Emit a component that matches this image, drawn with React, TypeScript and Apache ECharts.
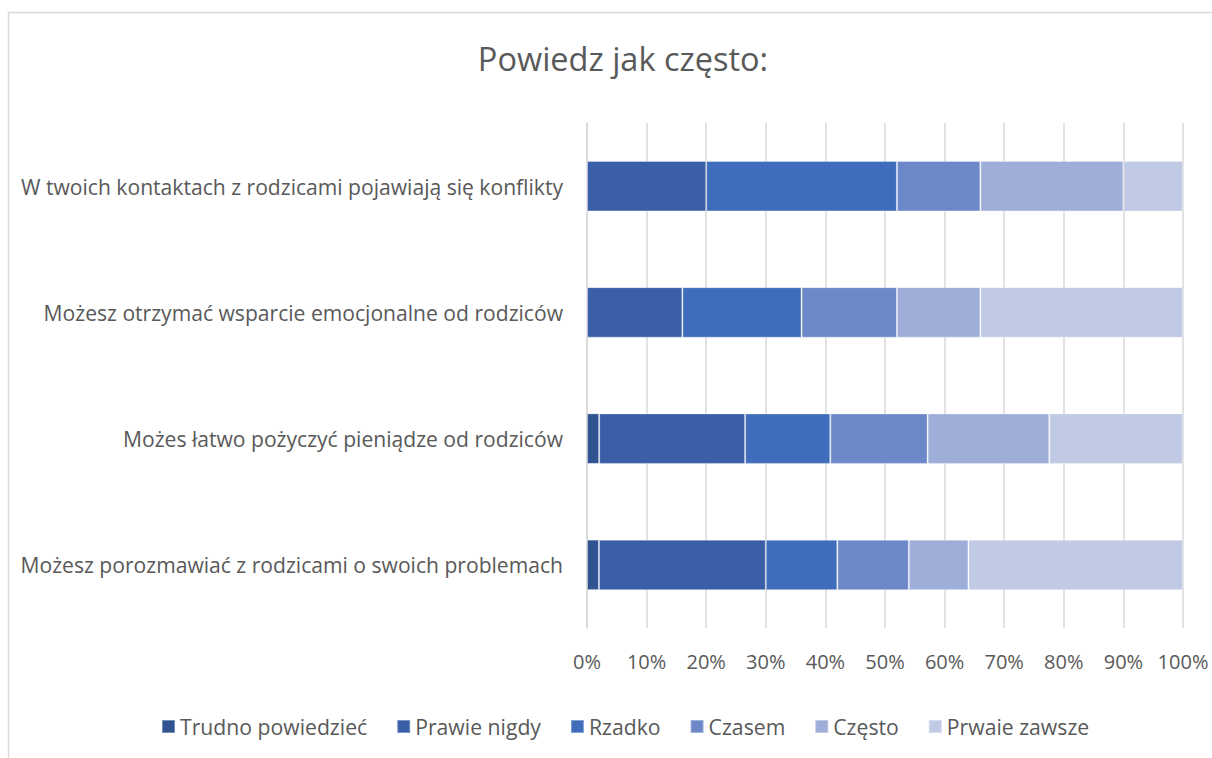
import React, { useEffect, useRef } from "react";
import * as echarts from "echarts";

const categories = [
  "W twoich kontaktach z rodzicami pojawiają się konflikty",
  "Możesz otrzymać wsparcie emocjonalne od rodziców",
  "Możes łatwo pożyczyć pieniądze od rodziców",
  "Możesz porozmawiać z rodzicami o swoich problemach",
];

const seriesNames = ["Trudno powiedzieć", "Prawie nigdy", "Rzadko", "Czasem", "Często", "Prwaie zawsze"];

const trudno = [0, 0, 2.04, 2];
const prawieNigdy = [20, 16, 24.49, 28];
const rzadko = [32, 20, 14.29, 12];
const czasem = [14, 16, 16.33, 12];
const czesto = [24, 14, 20.41, 10];
const prawieZawsze = [10, 34, 22.45, 36];

const seriesValues = [trudno, prawieNigdy, rzadko, czasem, czesto, prawieZawsze];
const colors = ["#2F5290", "#3A5FA6", "#3F6DBB", "#6D88C9", "#9FAED8", "#C0CAE4"];

const FONT = "'Open Sans', sans-serif";

export default function App() {
  const ref = useRef<HTMLDivElement>(null);
  useEffect(() => {
    if (!ref.current) return;
    const chart = echarts.init(ref.current, undefined, { renderer: "svg" });
    chart.setOption({
      animation: false,
      backgroundColor: "#ffffff",
      title: {
        text: "Powiedz jak często:",
        left: 618,
        top: 37,
        textAlign: "center",
        textStyle: { fontFamily: FONT, fontSize: 32.5, fontWeight: "normal", color: "#595959" },
      },
      legend: {
        bottom: 16,
        left: 156,
        icon: "rect",
        itemWidth: 13,
        itemHeight: 13,
        itemGap: 29,
        textStyle: { fontFamily: FONT, fontSize: 21.2, color: "#595959" },
        data: seriesNames,
      },
      grid: { left: 587, right: 29, top: 123, bottom: 130 },
      xAxis: {
        type: "value",
        min: 0,
        max: 100,
        interval: 10,
        axisLine: { show: false },
        axisTick: { show: false },
        splitLine: { lineStyle: { color: "#d9d9d9", width: 1.5 } },
        axisLabel: { formatter: "{value}%", fontFamily: FONT, fontSize: 20, color: "#595959", margin: 23 },
      },
      yAxis: {
        type: "category",
        inverse: true,
        data: categories,
        axisLine: { show: true, lineStyle: { color: "#d9d9d9", width: 1.5 } },
        axisTick: { show: false },
        axisLabel: { fontFamily: FONT, fontSize: 21.1, color: "#595959", margin: 24 },
      },
      graphic: [
        { type: "line", shape: { x1: 8.5, y1: 12, x2: 8.5, y2: 758 }, style: { stroke: "#d9d9d9", lineWidth: 1.5 } },
        { type: "line", shape: { x1: 8, y1: 12.5, x2: 1212, y2: 12.5 }, style: { stroke: "#d9d9d9", lineWidth: 1.5 } },
      ],
      series: seriesNames.map((name, i) => ({
        name,
        type: "bar",
        stack: "total",
        barWidth: "40%",
        data: seriesValues[i],
        itemStyle: { color: colors[i], borderColor: "rgba(255,255,255,0.35)", borderWidth: 1 },
      })),
    });
    return () => chart.dispose();
  }, []);
  return (
    <div style={{ position: "fixed", left: 0, top: 0, width: 1212, height: 758 }}>
      <div ref={ref} style={{ width: 1212, height: 758 }} />
    </div>
  );
}
